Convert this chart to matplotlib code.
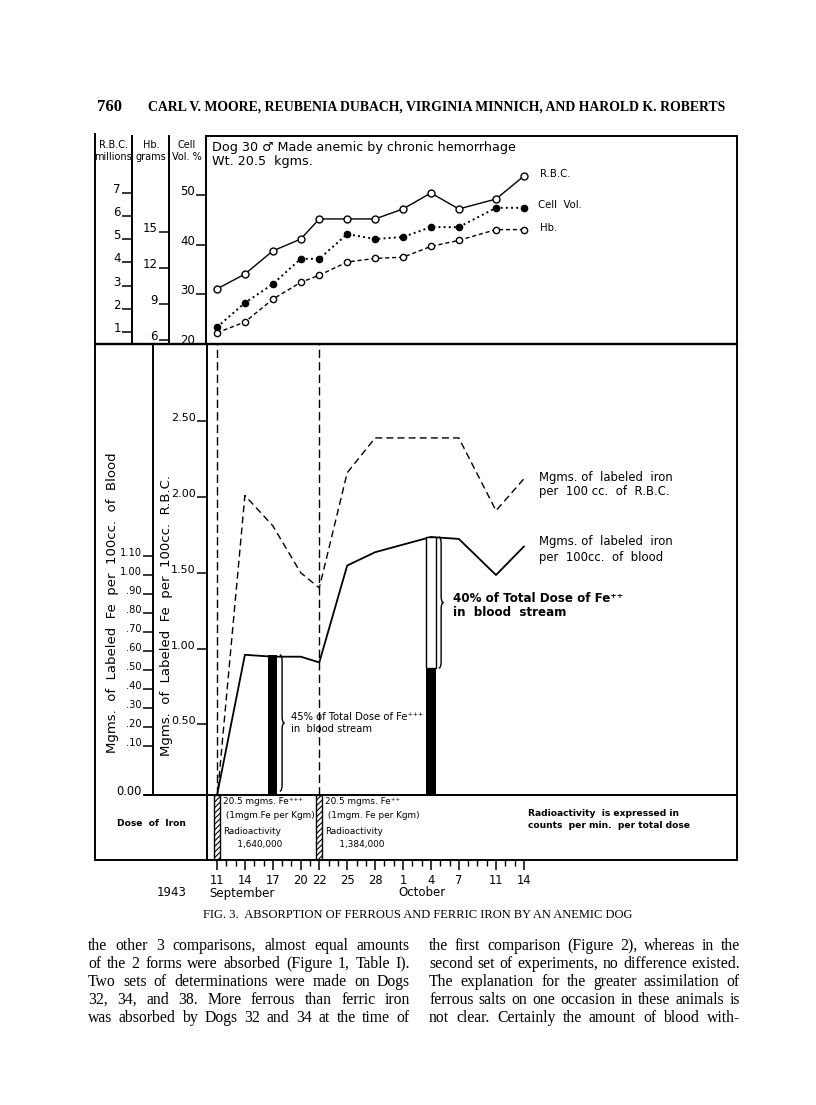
import matplotlib
matplotlib.use("Agg")
import matplotlib.pyplot as plt
from matplotlib.lines import Line2D
from matplotlib.path import Path
from matplotlib.patches import PathPatch

plt.rcParams['font.family'] = 'DejaVu Sans'
plt.rcParams['axes.linewidth'] = 1.4
plt.rcParams['hatch.linewidth'] = 0.8

# days counted from Sept. 11, 1943
days = [0, 3, 6, 9, 11, 14, 17, 20, 23, 26, 30, 33]
rbc = [2.86, 3.50, 4.50, 5.01, 5.88, 5.88, 5.88, 6.31, 7.00, 6.31, 6.74, 7.73]
cell_vol = [23.4, 28.3, 32.1, 37.2, 37.2, 42.2, 41.2, 41.6, 43.6, 43.6, 47.5, 47.5]
hb = [6.6, 7.5, 9.4, 10.8, 11.4, 12.5, 12.8, 12.9, 13.8, 14.3, 15.2, 15.2]

# labeled iron, mgms per 100cc of R.B.C.
fe_rbc_days = [0, 3, 6, 9, 11, 14, 17, 26, 30, 33]
fe_rbc = [0.0, 2.01, 1.81, 1.50, 1.40, 2.16, 2.39, 2.39, 1.91, 2.12]
# labeled iron, mgms per 100cc of blood
fe_blood_days = [0, 3, 6, 9, 11, 14, 17, 23, 26, 30, 33]
fe_blood = [-0.16, 0.58, 0.57, 0.57, 0.54, 1.05, 1.12, 1.20, 1.19, 1.00, 1.15]

dose_days = [0, 11]
dose_text = [["20.5 mgms. Fe\u207a\u207a\u207a", " (1mgm.Fe per Kgm)", "Radioactivity", "     1,640,000"],
             ["20.5 mgms. Fe\u207a\u207a", " (1mgm. Fe per Kgm)", "Radioactivity", "     1,384,000"]]
bar_days = [6, 23]
bar_black = [0.58, 0.51]
bar_white = [None, 1.20]
bar_pct = ["45% of Total Dose of Fe\u207a\u207a\u207a", "40% of Total Dose of Fe\u207a\u207a"]

tick_days = [0, 3, 6, 9, 11, 14, 17, 20, 23, 26, 30, 33]
tick_labels = ['11', '14', '17', '20', '22', '25', '28', '1', '4', '7', '11', '14']

W, H = 816, 1105
fig = plt.figure(figsize=(W / 100, H / 100), dpi=100)


def fx(x):
    return x / W


def fy(y):
    return 1 - y / H


def box(l, t, r, b):
    return [fx(l), fy(b), fx(r) - fx(l), fy(t) - fy(b)]


def fline(x1, y1, x2, y2, lw=1.4):
    fig.add_artist(Line2D([fx(x1), fx(x2)], [fy(y1), fy(y2)], color='black', lw=lw))


def T(x, y, s, **kw):
    kw.setdefault('va', 'center')
    return fig.text(fx(x), fy(y), s, **kw)


x0, pxday = 217, 9.3


def xl(l, r):
    return ((l - x0) / pxday, (r - x0) / pxday)


def side_axis(parent, frac, lim, ticks, labels=None):
    a = parent.twinx()
    a.yaxis.set_ticks_position('left')
    a.yaxis.set_label_position('left')
    a.spines['left'].set_position(('axes', frac))
    a.spines['left'].set_visible(True)
    for s in ['right', 'top', 'bottom']:
        a.spines[s].set_visible(False)
    a.set_ylim(*lim)
    a.set_yticks(ticks)
    if labels is not None:
        a.set_yticklabels(labels)
    return a


def style_y(a, size=8.5):
    a.tick_params(axis='y', direction='out', length=7, width=1.1, labelsize=size, pad=1)
    plt.setp(a.get_yticklabels(), va='baseline')


# ---------------- top panel ----------------
ax_t = fig.add_axes(box(206, 136, 737, 344))
ax_t.set_xlim(*xl(206, 737))
ax_t.set_ylim(20, 62)
ax_t.set_yticks([20, 30, 40, 50])
ax_t.set_xticks([])
ax_t.spines['bottom'].set_visible(False)
style_y(ax_t)

ax_r = side_axis(ax_t, -(206 - 132) / 531, (0.482, 9.46), range(1, 8))
style_y(ax_r)
ax_h = side_axis(ax_t, -(206 - 169) / 531, (5.667, 23.0), [6, 9, 12, 15])
style_y(ax_h)

ax_t.plot(days, cell_vol, ls=':', lw=1.4, color='black', marker='o', ms=4.5,
          mfc='black', mec='black', zorder=3)
ax_r.plot(days, rbc, ls='-', lw=1.0, color='black', marker='o', ms=5,
          mfc='white', mec='black', mew=1.0)
ax_h.plot(days, hb, ls=(0, (3, 2)), lw=1.0, color='black', marker='o', ms=4.5,
          mfc='white', mec='black', mew=1.0)

T(212, 147, "Dog 30 \u2642 Made anemic by chronic hemorrhage", fontsize=9.2)
T(212, 162, "Wt. 20.5  kgms.", fontsize=9.2)
T(540, 174, "R.B.C.", fontsize=7.3)
T(538, 205, "Cell  Vol.", fontsize=7.3)
T(540, 228, "Hb.", fontsize=7.3)

for xc, l1, l2 in [(113, "R.B.C.", "millions"), (151, "Hb.", "grams"), (187, "Cell", "Vol. %")]:
    T(xc, 145, l1, fontsize=7, ha='center')
    T(xc, 157, l2, fontsize=7, ha='center')

# ---------------- bottom panel ----------------
ax_b = fig.add_axes(box(207, 344, 737, 795))
ax_b.set_xlim(*xl(207, 737))
ax_b.set_ylim(0.033, 3.01)
ax_b.set_yticks([0.5, 1.0, 1.5, 2.0, 2.5])
ax_b.set_yticklabels(['0.50', '1.00', '1.50', '2.00', '2.50'])
ax_b.set_xticks([])
ax_b.spines['top'].set_visible(False)
ax_b.spines['bottom'].set_visible(False)
style_y(ax_b, 8)

blood_lim = (-0.158, 2.216)
blood_ticks = [blood_lim[0]] + [i / 10 for i in range(1, 12)]
blood_labels = ['0.00', '.10', '.20', '.30', '.40', '.50', '.60', '.70', '.80', '.90', '1.00', '1.10']
ax_bl = side_axis(ax_b, -(207 - 153) / 530, blood_lim, blood_ticks, blood_labels)
style_y(ax_bl, 7.1)
ax_bl.get_yticklabels()[0].set_fontsize(8.3)

ax_bl.set_ylabel("Mgms.  of  Labeled  Fe  per  100cc.  of  Blood", fontsize=9.5)
ax_bl.yaxis.set_label_coords(-(207 - 119) / 530, (795 - 603) / 451)
ax_b.set_ylabel("Mgms.  of  Labeled  Fe  per  100cc.  R.B.C.", fontsize=9.5)
ax_b.yaxis.set_label_coords(-(207 - 173) / 530, (795 - 616) / 451)

for d in dose_days:
    ax_b.axvline(d, color='black', lw=1.0, ls=(0, (6, 3)))

ax_b.plot(fe_rbc_days, fe_rbc, color='black', lw=1.0, ls=(0, (5, 3)))
ax_bl.plot(fe_blood_days, fe_blood, color='black', lw=1.3)

for d, top_b, top_w in zip(bar_days, bar_black, bar_white):
    ax_bl.bar(d, top_b - blood_lim[0], bottom=blood_lim[0], width=1.0,
              color='black', zorder=3)
    if top_w is not None:
        ax_bl.bar(d, top_w - top_b, bottom=top_b, width=1.0, facecolor='white',
                  edgecolor='black', lw=1.0, zorder=3)


def brace(a, x, w, y0, y1):
    ym = (y0 + y1) / 2
    d = 0.05 * (y1 - y0)
    verts = [(x, y0), (x + w / 2, y0), (x + w / 2, y0 + d), (x + w / 2, ym - d),
             (x + w / 2, ym), (x + w, ym), (x + w / 2, ym), (x + w / 2, ym + d),
             (x + w / 2, y1 - d), (x + w / 2, y1), (x, y1)]
    C, L, M = Path.CURVE3, Path.LINETO, Path.MOVETO
    codes = [M, C, C, L, C, C, C, C, L, C, C]
    a.add_patch(PathPatch(Path(verts, codes), fill=False, lw=1.0, zorder=4))


brace(ax_bl, bar_days[0] + 0.75, 0.5, blood_lim[0] + 0.02, bar_black[0])
brace(ax_bl, bar_days[1] + 0.85, 0.5, bar_black[1], bar_white[1])

T(291, 717, bar_pct[0], fontsize=7.2)
T(291, 729, "in  blood stream", fontsize=7.2)
T(453, 599, bar_pct[1], fontsize=8.6, fontweight='bold')
T(453, 613, "in  blood  stream", fontsize=8.6, fontweight='bold')

T(539, 477, "Mgms. of  labeled  iron", fontsize=8.4)
T(539, 492, "per  100 cc.  of  R.B.C.", fontsize=8.4)
T(539, 542, "Mgms. of  labeled  iron", fontsize=8.4)
T(539, 557, "per  100cc.  of  blood", fontsize=8.4)

# ---------------- dose panel ----------------
ax_d = fig.add_axes(box(207, 795, 737, 860))
ax_d.set_xlim(*xl(207, 737))
ax_d.set_ylim(0, 1)
ax_d.set_yticks([])
ax_d.bar(dose_days, 1, width=0.65, facecolor='white', edgecolor='black',
         hatch='//////', lw=1.0)
ax_d.set_xticks(tick_days)
ax_d.set_xticklabels(tick_labels)
ax_d.set_xticks(range(0, 34), minor=True)
ax_d.tick_params(axis='x', which='major', direction='out', length=7, width=1.1,
                 labelsize=8.3, pad=3)
ax_d.tick_params(axis='x', which='minor', direction='out', length=4, width=1.0)

for d, lines in zip(dose_days, dose_text):
    xpx = x0 + d * pxday + 6
    for i, s in enumerate(lines):
        T(xpx, [802, 815, 832, 845][i], s, fontsize=6.4)

T(151, 823, "Dose  of  Iron", fontsize=6.6, ha='center', fontweight='bold')
T(528, 813, "Radioactivity  is expressed in", fontsize=6.6, fontweight='bold')
T(528, 825, "counts  per min.  per total dose", fontsize=6.6, fontweight='bold')

T(172, 893, "1943", fontsize=8.5, ha='center')
T(242, 893, "September", fontsize=8.5, ha='center')
T(422, 893, "October", fontsize=8.5, ha='center')

# frame lines
fline(95, 134, 95, 860)
fline(95, 344, 737, 344, lw=1.7)
fline(145, 795, 207, 795)
fline(95, 860, 207, 860)

# ---------------- page text ----------------
serif = dict(family='Liberation Serif')
T(97, 107, "760", fontsize=12, fontweight='bold', **serif)
T(437, 107, "CARL V. MOORE, REUBENIA DUBACH, VIRGINIA MINNICH, AND HAROLD K. ROBERTS",
  fontsize=9.9, fontweight='bold', ha='center', **serif)
T(418, 915, "FIG. 3.  ABSORPTION OF FERROUS AND FERRIC IRON BY AN ANEMIC DOG",
  fontsize=9.0, ha='center', **serif)

left_col = ["the other 3 comparisons, almost equal amounts",
            "of the 2 forms were absorbed (Figure 1, Table I).",
            "Two sets of determinations were made on Dogs",
            "32, 34, and 38.  More ferrous than ferric iron",
            "was absorbed by Dogs 32 and 34 at the time of"]
right_col = ["the first comparison (Figure 2), whereas in the",
             "second set of experiments, no difference existed.",
             "The explanation for the greater assimilation of",
             "ferrous salts on one occasion in these animals is",
             "not clear.  Certainly the amount of blood with-"]
line_y = [946, 964, 982, 1000, 1018]

renderer = fig.canvas.get_renderer()


def justify(s, xa, xb, y):
    words = s.split()
    ts = [T(xa, y, w, fontsize=11.3, **serif) for w in words]
    widths = [t.get_window_extent(renderer).width for t in ts]
    gap = (xb - xa - sum(widths)) / (len(words) - 1)
    x = xa
    for t, w in zip(ts, widths):
        t.set_x(fx(x))
        x += w + gap


for s, y in zip(left_col, line_y):
    justify(s, 88, 410, y)
for s, y in zip(right_col, line_y):
    justify(s, 429, 740, y)

fig.savefig("out.png", dpi=100)
